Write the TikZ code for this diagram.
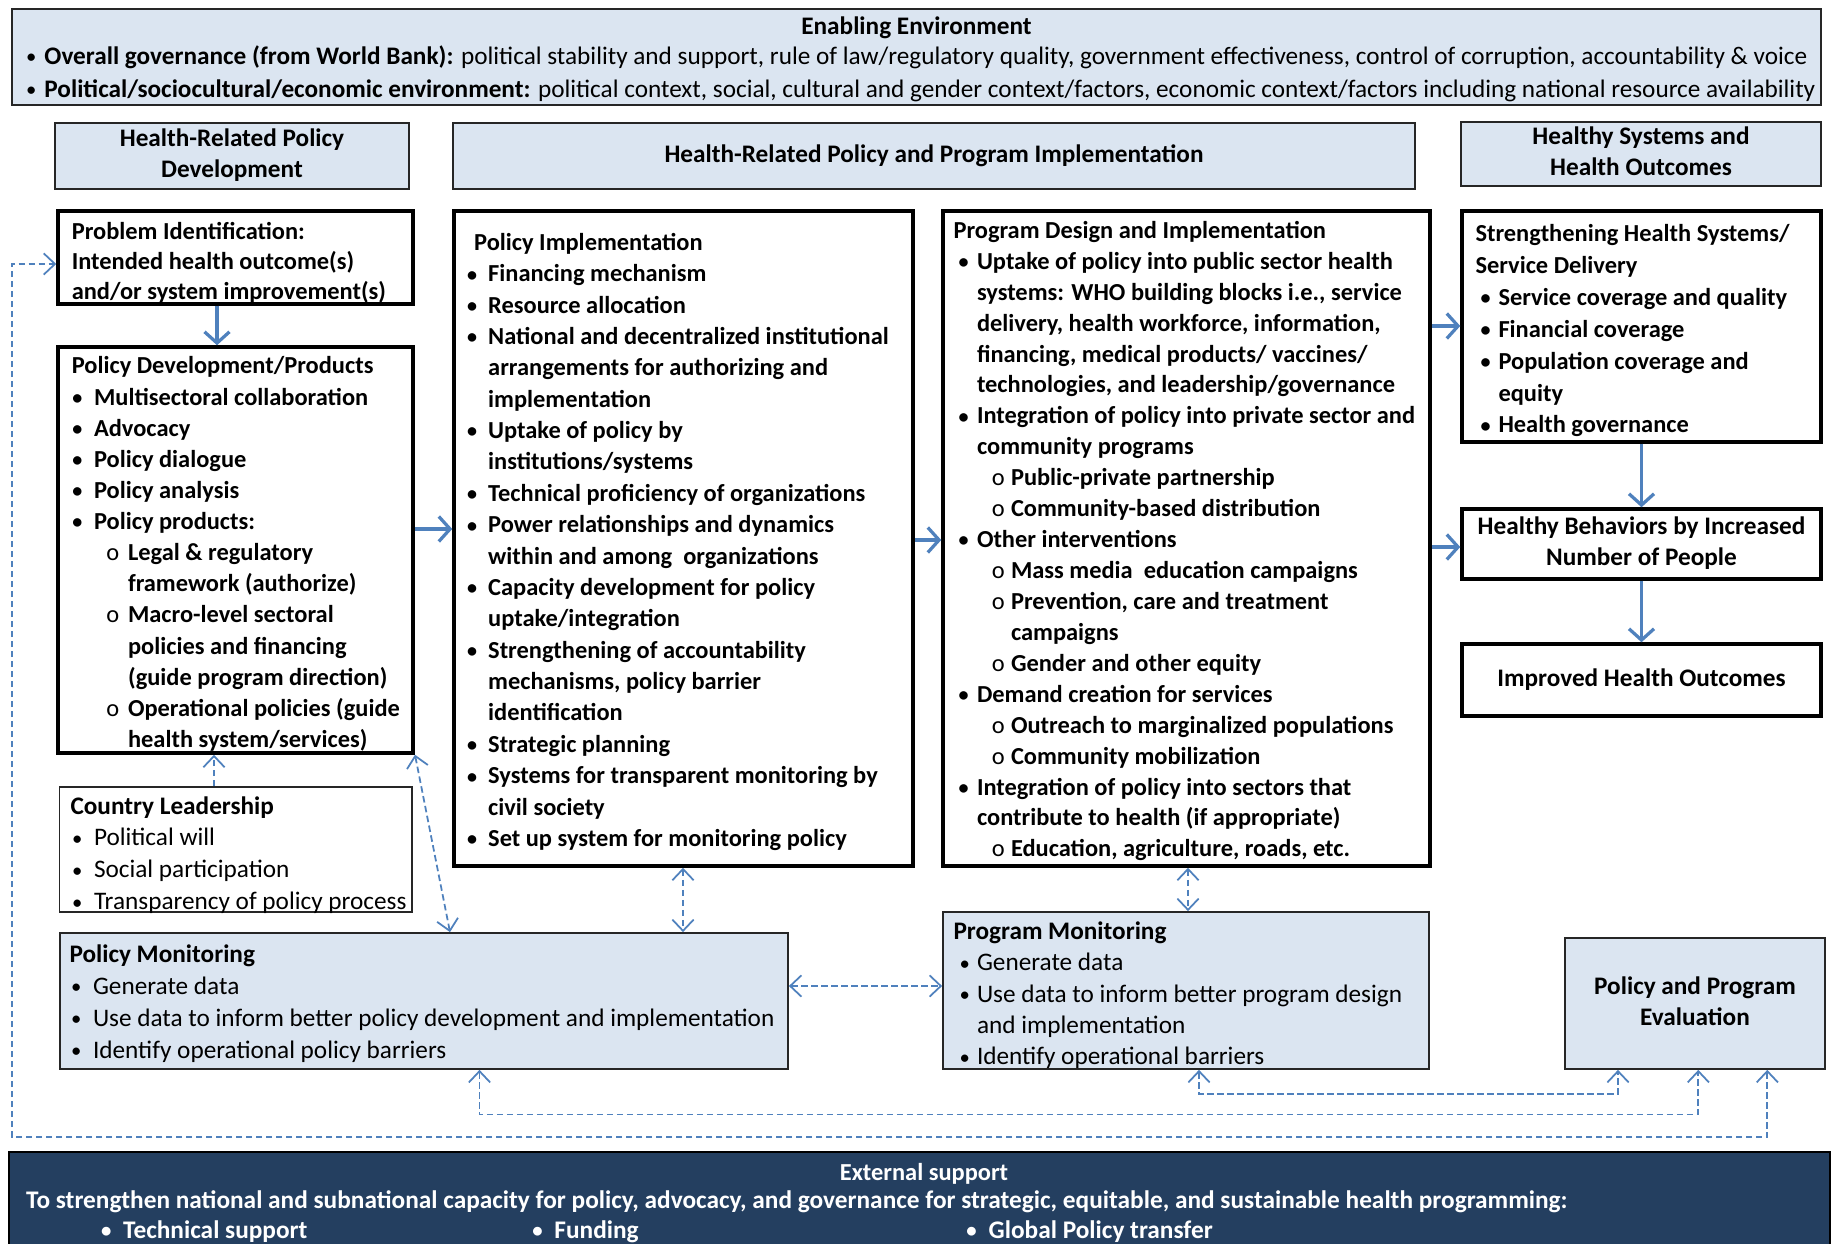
\documentclass[tikz,border=0pt]{standalone}
\usepackage{fontspec}
\usepackage{graphicx}
\setmainfont{Carlito}
\usetikzlibrary{arrows.meta,fit}
\definecolor{lightbg}{HTML}{DBE5F1}
\definecolor{arrowblue}{HTML}{4F81BD}
\definecolor{navybg}{HTML}{243F60}
\newcommand{\fsz}[1]{\fontsize{9.77pt}{#1}\selectfont}
\newcommand{\fsb}[1]{\fontsize{10.1pt}{#1}\selectfont}
\newcommand{\bul}{\raisebox{0.25pt}{\scalebox{0.82}{\textbullet}}}
\newcommand{\itm}[2]{\hspace*{#1}\makebox[\dimexpr#2-#1\relax][l]{\bul}}
\newcommand{\sitm}[2]{\hspace*{#1}\makebox[\dimexpr#2-#1\relax][l]{\mdseries o}}
\newcommand{\cnt}[1]{\hspace*{#1}}
\tikzset{
  thickbox/.style={draw=black, line width=1.4pt, fill=white, inner sep=0pt},
  hdrbox/.style={draw=black!85, line width=0.7pt, fill=lightbg, inner sep=0pt},
  thinbox/.style={draw=black!85, line width=0.7pt, fill=white, inner sep=0pt},
  monbox/.style={draw=black!85, line width=0.7pt, fill=lightbg, inner sep=0pt},
  centbox/.style={draw=black, line width=1.4pt, fill=white, inner sep=0pt},
  ctxt/.style={inner sep=0pt, anchor=center, align=center, font=\bfseries\fsb{12.4pt}},
  txt/.style={inner sep=0pt, anchor=north west, align=left},
  flow/.style={draw=arrowblue, line width=1.3pt, -{Straight Barb[length=4.5pt,width=10pt]}},
  dlink/.style={draw=arrowblue, line width=0.7pt, dash pattern=on 2.6pt off 1.4pt},
  dtip/.tip={Straight Barb[length=4.5pt,width=8.5pt]},
}
\begin{document}
\begin{tikzpicture}[x=0.4pt, y=-0.4pt, font=\fsz{12.4pt}]
\fill[white] (0,0) rectangle (1834,1244);
\useasboundingbox (0,0) rectangle (1834,1244);

% Enabling environment
\node[hdrbox, fit={(12,9) (1821,105)}] (env) {};
\node[txt, anchor=north, align=center, font=\bfseries\fsb{12.4pt}] (envtitle) at (env.north |- 0,12.2) {\strut Enabling Environment};
\node[txt, font=\fsb{13.1pt}] (envtext) at (25.7,41.1) {\strut\makebox[7.3pt][l]{\bul}\textbf{Overall governance (from World Bank):} political stability and support, rule of law/regulatory quality, government effectiveness, control of corruption, accountability \& voice\\
\makebox[7.3pt][l]{\bul}\textbf{Political/sociocultural/economic environment:} political context, social, cultural and gender context/factors, economic context/factors including national resource availability};

% Headers
\node[hdrbox, fit={(55,123) (409,189)}] (h1) {};
\node[ctxt] (h1t) at (h1.center) {\strut Health-Related Policy\\Development\strut};
\node[hdrbox, fit={(453,123) (1415,189)}] (h2) {};
\node[ctxt] (h2t) at (h2.center) {\strut Health-Related Policy and Program Implementation};
\node[hdrbox, fit={(1461,122) (1821,186)}] (h3) {};
\node[ctxt] (h3t) at (h3.center) {\strut Healthy Systems and\\Health Outcomes\strut};

% Problem identification
\node[thickbox, fit={(58,211) (413,304)}] (pid) {};
\node[txt, font=\bfseries\fsz{12.1pt}] (pidtext) at (71.3,217.4) {\strut Problem Identification:\\Intended health outcome(s)\\and/or system improvement(s)};

% Policy development
\node[thickbox, fit={(58,347) (413,753)}] (pdev) {};
\node[txt, font=\bfseries\fsz{12.45pt}] (pdevtext) at (71.3,351.7) {\strut Policy Development/Products\\
\itm{0.2pt}{8.9pt}Multisectoral collaboration\\
\itm{0.2pt}{8.9pt}Advocacy\\
\itm{0.2pt}{8.9pt}Policy dialogue\\
\itm{0.2pt}{8.9pt}Policy analysis\\
\itm{0.2pt}{8.9pt}Policy products:\\
\sitm{13.8pt}{22.5pt}Legal \& regulatory\\
\cnt{22.5pt}framework (authorize)\\
\sitm{13.8pt}{22.5pt}Macro-level sectoral\\
\cnt{22.5pt}policies and financing\\
\cnt{22.5pt}(guide program direction)\\
\sitm{13.8pt}{22.5pt}Operational policies (guide\\
\cnt{22.5pt}health system/services)};

% Policy implementation
\node[thickbox, fit={(454,211) (913,866)}] (pimpl) {};
\node[txt, font=\bfseries\fsz{12.55pt}] (pimpltext) at (466.7,227.9) {\strut\hspace*{2.8pt}Policy Implementation\\
\itm{0pt}{8.4pt}Financing mechanism\\
\itm{0pt}{8.4pt}Resource allocation\\
\itm{0pt}{8.4pt}National and decentralized institutional\\
\cnt{8.4pt}arrangements for authorizing and\\
\cnt{8.4pt}implementation\\
\itm{0pt}{8.4pt}Uptake of policy by\\
\cnt{8.4pt}institutions/systems\\
\itm{0pt}{8.4pt}Technical proficiency of organizations\\
\itm{0pt}{8.4pt}Power relationships and dynamics\\
\cnt{8.4pt}within and among\ \ organizations\\
\itm{0pt}{8.4pt}Capacity development for policy\\
\cnt{8.4pt}uptake/integration\\
\itm{0pt}{8.4pt}Strengthening of accountability\\
\cnt{8.4pt}mechanisms, policy barrier\\
\cnt{8.4pt}identification\\
\itm{0pt}{8.4pt}Strategic planning\\
\itm{0pt}{8.4pt}Systems for transparent monitoring by\\
\cnt{8.4pt}civil society\\
\itm{0pt}{8.4pt}Set up system for monitoring policy};

% Program design
\node[thickbox, fit={(943,211) (1430,866)}] (pdes) {};
\node[txt, font=\bfseries\fsz{12.37pt}] (pdestext) at (953,216.2) {\strut Program Design and Implementation\\
\itm{2.0pt}{9.4pt}Uptake of policy into public sector health\\
\cnt{9.4pt}systems: WHO building blocks i.e., service\\
\cnt{9.4pt}delivery, health workforce, information,\\
\cnt{9.4pt}financing, medical products/ vaccines/\\
\cnt{9.4pt}technologies, and leadership/governance\\
\itm{2.0pt}{9.4pt}Integration of policy into private sector and\\
\cnt{9.4pt}community programs\\
\sitm{15.3pt}{23pt}Public-private partnership\\
\sitm{15.3pt}{23pt}Community-based distribution\\
\itm{2.0pt}{9.4pt}Other interventions\\
\sitm{15.3pt}{23pt}Mass media\ \ education campaigns\\
\sitm{15.3pt}{23pt}Prevention, care and treatment\\
\cnt{23pt}campaigns\\
\sitm{15.3pt}{23pt}Gender and other equity\\
\itm{2.0pt}{9.4pt}Demand creation for services\\
\sitm{15.3pt}{23pt}Outreach to marginalized populations\\
\sitm{15.3pt}{23pt}Community mobilization\\
\itm{2.0pt}{9.4pt}Integration of policy into sectors that\\
\cnt{9.4pt}contribute to health (if appropriate)\\
\sitm{15.3pt}{23pt}Education, agriculture, roads, etc.};

% Strengthening health systems
\node[thickbox, fit={(1462,211) (1821,442)}] (shs) {};
\node[txt, font=\bfseries\fsz{12.77pt}] (shstext) at (1475,218.6) {\strut Strengthening Health Systems/\\
Service Delivery\\
\itm{2.0pt}{9.2pt}Service coverage and quality\\
\itm{2.0pt}{9.2pt}Financial coverage\\
\itm{2.0pt}{9.2pt}Population coverage and\\
\cnt{9.2pt}equity\\
\itm{2.0pt}{9.2pt}Health governance};

\node[centbox, fit={(1462,509) (1821,579)}] (hb) {};
\node[ctxt] (hbt) at (hb.center) {\strut Healthy Behaviors by Increased\\Number of People\strut};
\node[centbox, fit={(1462,644) (1821,716)}] (iho) {};
\node[ctxt] (ihot) at (iho.center) {\strut Improved Health Outcomes};

% Country leadership
\node[thinbox, fit={(59.6,787) (411.7,912)}] (cl) {};
\node[txt, font=\fsb{12.77pt}] (cltext) at (70,791.2) {\strut\textbf{Country Leadership}\\
\itm{0.6pt}{9.4pt}Political will\\
\itm{0.6pt}{9.4pt}Social participation\\
\itm{0.6pt}{9.4pt}Transparency of policy process};

% Monitoring
\node[monbox, fit={(60,933) (788,1069)}] (polmon) {};
\node[txt, font=\fsb{12.77pt}] (polmontext) at (69,939.5) {\strut\textbf{Policy Monitoring}\\
\itm{0.6pt}{9.4pt}Generate data\\
\itm{0.6pt}{9.4pt}Use data to inform better policy development and implementation\\
\itm{0.6pt}{9.4pt}Identify operational policy barriers};

\node[monbox, fit={(943,912) (1429,1069)}] (progmon) {};
\node[txt, font=\fsb{12.5pt}] (progmontext) at (953,917.3) {\strut\textbf{Program Monitoring}\\
\itm{2.4pt}{9.4pt}Generate data\\
\itm{2.4pt}{9.4pt}Use data to inform better program design\\
\cnt{9.4pt}and implementation\\
\itm{2.4pt}{9.4pt}Identify operational barriers};

\node[monbox, fit={(1565,938) (1825,1069)}] (eval) {};
\node[ctxt] (evalt) at (eval.center) {\strut Policy and Program\\Evaluation\strut};

% External support
\node[draw=black, line width=0.7pt, fill=navybg, inner sep=0pt, fit={(9,1152) (1830,1250)}] (ext) {};
\node[txt, anchor=north, align=center, text=white, font=\bfseries\fsz{12.6pt}] (exttitle) at (924,1157.8) {\strut External support};
\node[txt, text=white, font=\bfseries\fontsize{10.13pt}{12.2pt}\selectfont] (exttext) at (25.7,1186.2) {\strut To strengthen national and subnational capacity for policy, advocacy, and governance for strategic, equitable, and sustainable health programming:\\
\hspace*{30.0pt}\makebox[8.8pt][l]{\bul}\makebox[163.7pt][l]{Technical support}\makebox[8.8pt][l]{\bul}\makebox[164.8pt][l]{Funding}\makebox[8.9pt][l]{\bul}Global Policy transfer};

% Solid flow arrows
\draw[flow] (217,0 |- pid.south) -- (217,0 |- pdev.north);
\draw[flow] (pdev.east |- 0,529) -- (pimpl.west |- 0,529);
\draw[flow] (pimpl.east |- 0,540) -- (pdes.west |- 0,540);
\draw[flow] (pdes.east |- 0,326) -- (shs.west |- 0,326);
\draw[flow] (pdes.east |- 0,547) -- (hb.west |- 0,547);
\draw[flow] (shs.south) -- (hb.north);
\draw[flow] (hb.south) -- (iho.north);

% Dashed links
\draw[dlink, -{dtip}] (cl.north -| 214,0) -- (pdev.south -| 214,0);
\draw[dlink, {dtip}-{dtip}] (415,0 |- pdev.south) -- (450,0 |- polmon.north);
\draw[dlink, {dtip}-{dtip}] (683,0 |- pimpl.south) -- (683,0 |- polmon.north);
\draw[dlink, {dtip}-{dtip}] (1188,0 |- pdes.south) -- (1188,0 |- progmon.north);
\draw[dlink, {dtip}-{dtip}] (polmon.east |- 0,986) -- (progmon.west |- 0,986);
\draw[dlink, {dtip}-{dtip}] (1199,0 |- progmon.south) -- (1199,1094) -| (1618,0 |- eval.south);
\draw[dlink, {dtip}-{dtip}] (479.5,0 |- polmon.south) -- (479.5,1114.6) -| (1698.3,0 |- eval.south);
\draw[dlink, {dtip}-{dtip}] (1767.3,0 |- eval.south) -- (1767.3,1136.8) -| (11.7,264) -- (pid.west |- 0,264);
\end{tikzpicture}
\end{document}
